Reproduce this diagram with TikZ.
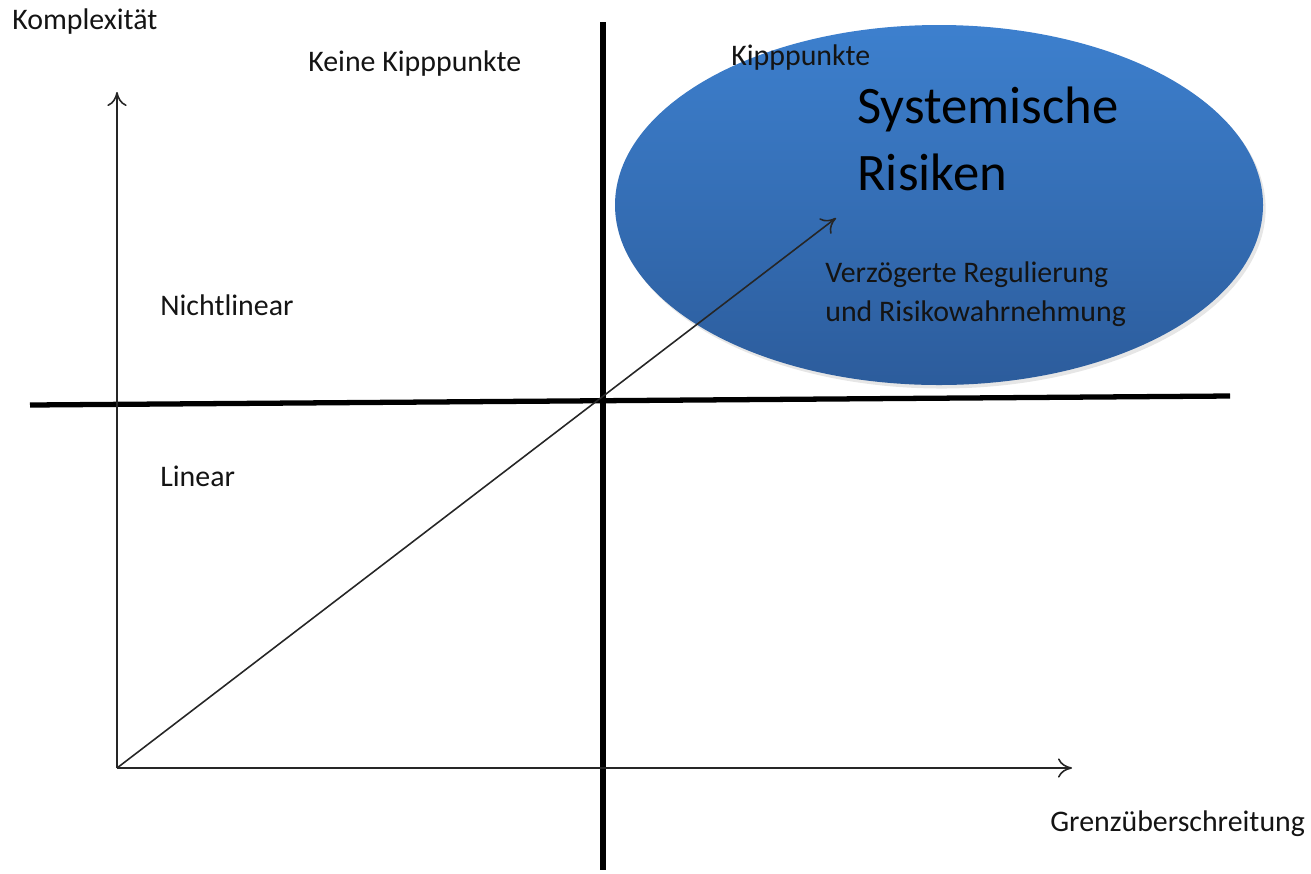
\documentclass[tikz,border=0pt]{standalone}
\usepackage{fontspec}
\setmainfont{Carlito}
\usetikzlibrary{arrows.meta,shadows,shapes.geometric}
\definecolor{txt}{HTML}{141414}
\definecolor{elltop}{HTML}{3D80CE}
\definecolor{ellbot}{HTML}{2C5C9C}
\tikzset{
  px/.style={x=0.02cm,y=-0.02cm},
  axis/.style={draw=black!85,line width=0.9pt,-{To[length=8pt,width=11pt,line width=0.9pt]}},
  thick line/.style={draw=black,line width=3pt},
  lbl/.style={font=\fontsize{17}{20}\selectfont,text=txt,inner sep=0pt,anchor=mid west},
  big/.style={font=\fontsize{30}{35}\selectfont,text=black,inner sep=0pt,anchor=mid west},
  blob/.style={ellipse,top color=elltop,bottom color=ellbot,draw=none,
    drop shadow={shadow xshift=1.5pt,shadow yshift=-2pt,opacity=0.2}}
}
\begin{document}
\begin{tikzpicture}[px]
\useasboundingbox (0,0) rectangle (1311,873);
% coordinates
\coordinate (O) at (117,768);
\coordinate (Ytop) at (117,92);
\coordinate (Xend) at (1072,768);
\coordinate (D) at (836,218);
\coordinate (Hl) at (30,405);
\coordinate (Hr) at (1230,396);
\coordinate (Vt) at (603,22);
\coordinate (Vb) at (603,870);
% thick cross
\draw[thick line] (Hl) -- (Hr);
\draw[thick line] (Vt) -- (Vb);
% ellipse
\node[blob,minimum width=648*0.02cm,minimum height=360*0.02cm] (E) at (939,205) {};
% axes
\draw[axis] (O) -- (Ytop);
\draw[axis] (O) -- (Xend);
\draw[axis] (O) -- (D);
% labels
\node[lbl] (komp) at (12,25) {Komplexität};
\node[lbl] (keine) at (308,67) {Keine Kipppunkte};
\node[lbl] (kipp) at (731,61) {Kipppunkte};
\node[big] (sys) at (857,119) {Systemische};
\node[big] (ris) at (857,186) {Risiken};
\node[lbl] (verz) at (825,278) {Verzögerte Regulierung};
\node[lbl] (und) at (825,317) {und Risikowahrnehmung};
\node[lbl] (nl) at (160,311) {Nichtlinear};
\node[lbl] (lin) at (160,482) {Linear};
\node[lbl] (grenz) at (1050,827) {Grenzüberschreitung};
\end{tikzpicture}
\end{document}
